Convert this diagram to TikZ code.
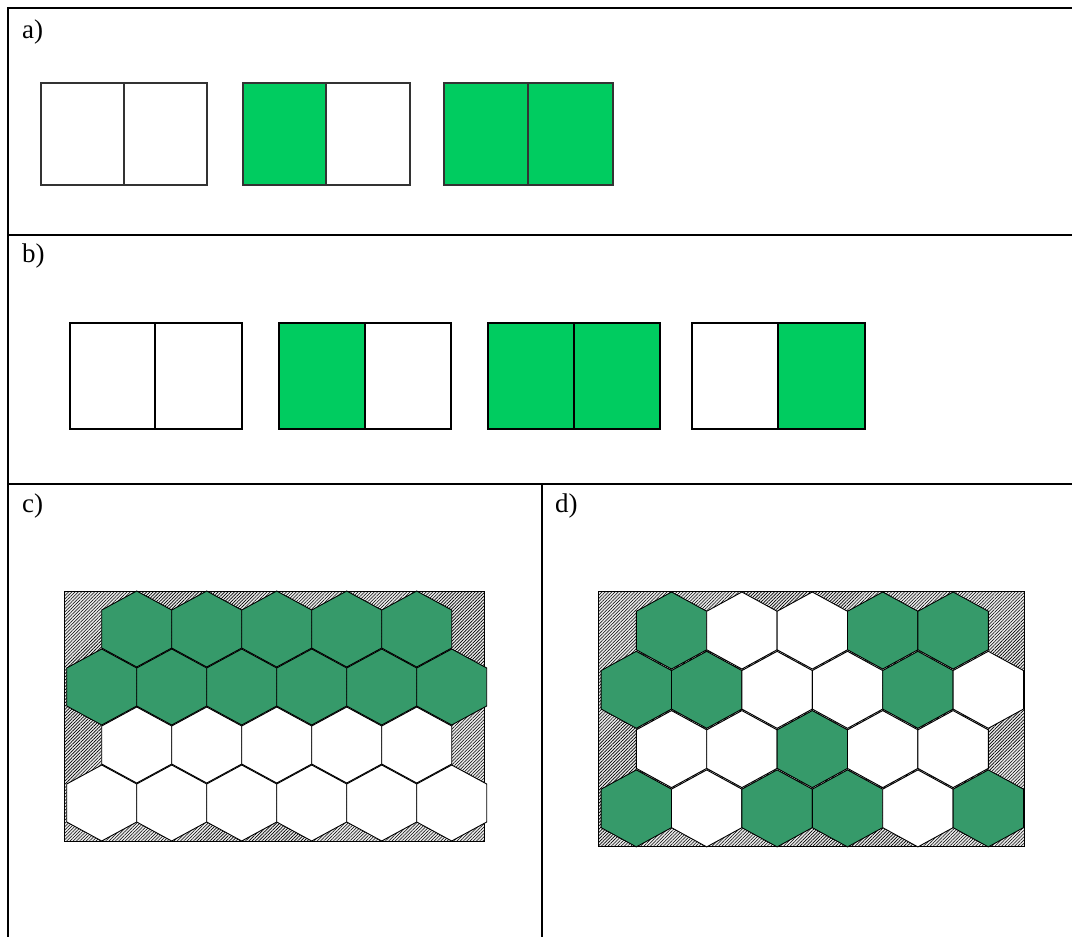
\documentclass[tikz,border=0pt]{standalone}
\usepackage{fontspec}
\setmainfont{Liberation Serif}
\usetikzlibrary{patterns.meta}
\definecolor{brightgreen}{RGB}{0,204,96}
\definecolor{hexgreen}{RGB}{54,154,106}
\tikzset{
 frame/.style={line width=2pt, black},
 lbl/.style={anchor=base west, inner sep=0pt, font=\fontsize{27}{30}\selectfont},
 cellA/.style={draw=black!80, line width=1.8pt},
 cellB/.style={draw=black, line width=2pt},
 hatch/.style={draw=black, line width=0.9pt, fill=black!8, postaction={pattern={Lines[angle=45,distance=2.3pt,line width=0.6pt]}}},
 hexw/.style={fill=white, draw=black, line width=0.9pt},
 hexg/.style={fill=hexgreen, draw=black, line width=0.9pt},
}
% style, cx, cy, half-width, half-height
\newcommand\hexat[5]{%
 \path[#1] ({#2},{#3-#5}) -- ({#2+#4},{#3-#5/2}) -- ({#2+#4},{#3+#5/2}) -- ({#2},{#3+#5}) -- ({#2-#4},{#3+#5/2}) -- ({#2-#4},{#3-#5/2}) -- cycle;}
% style, x0, x1, y0, y1, mid, left fill, right fill
\newcommand\twocell[8]{%
 \fill[#7] (#2,#4) rectangle (#6,#5);
 \fill[#8] (#6,#4) rectangle (#3,#5);
 \draw[#1] (#2,#4) rectangle (#3,#5);
 \draw[#1] (#6,#4) -- (#6,#5);}
\begin{document}
\begin{tikzpicture}[x=1pt,y=-1pt]
\useasboundingbox (0,0) rectangle (1072,937);
% table frame
\draw[frame] (1072,8) -- (8,8) -- (8,937);
\draw[frame] (8,235) -- (1072,235);
\draw[frame] (8,483.7) -- (1072,483.7);
\draw[frame] (542,483.7) -- (542,937);
% labels
\node[lbl] (la) at (22,38) {a)};
\node[lbl] (lb) at (22,262) {b)};
\node[lbl] (lc) at (22,512.5) {c)};
\node[lbl] (ld) at (555,512.5) {d)};
% row a
\twocell{cellA}{41}{207}{83}{185}{124}{white}{white}
\twocell{cellA}{243}{410}{83}{185}{326}{brightgreen}{white}
\twocell{cellA}{444}{613}{83}{185}{528}{brightgreen}{brightgreen}
% row b
\twocell{cellB}{70}{242}{323}{429}{155}{white}{white}
\twocell{cellB}{279}{451}{323}{429}{365}{brightgreen}{white}
\twocell{cellB}{488}{660}{323}{429}{574}{brightgreen}{brightgreen}
\twocell{cellB}{692}{865}{323}{429}{778}{white}{brightgreen}
% panel c
\draw[hatch] (64,591) rectangle (484,841);
\foreach \k in {0,...,4} {\hexat{hexg}{136.7+70*\k}{629}{35}{38}}
\foreach \k in {0,...,5} {\hexat{hexg}{101.7+70*\k}{687}{35}{38}}
\foreach \k in {0,...,4} {\hexat{hexw}{136.7+70*\k}{745}{35}{38}}
\foreach \k in {0,...,5} {\hexat{hexw}{101.7+70*\k}{803}{35}{38}}
% panel d
\draw[hatch] (598.3,591.5) rectangle (1024.3,846.7);
\foreach \k/\s in {0/hexg,1/hexw,2/hexw,3/hexg,4/hexg} {\hexat{\s}{671.5+70.4*\k}{630.5}{35.2}{38.5}}
\foreach \k/\s in {0/hexg,1/hexg,2/hexw,3/hexw,4/hexg,5/hexw} {\hexat{\s}{636.3+70.4*\k}{689.8}{35.2}{38.5}}
\foreach \k/\s in {0/hexw,1/hexw,2/hexg,3/hexw,4/hexw} {\hexat{\s}{671.5+70.4*\k}{749.1}{35.2}{38.5}}
\foreach \k/\s in {0/hexg,1/hexw,2/hexg,3/hexg,4/hexw,5/hexg} {\hexat{\s}{636.3+70.4*\k}{808.4}{35.2}{38.5}}
\end{tikzpicture}
\end{document}
